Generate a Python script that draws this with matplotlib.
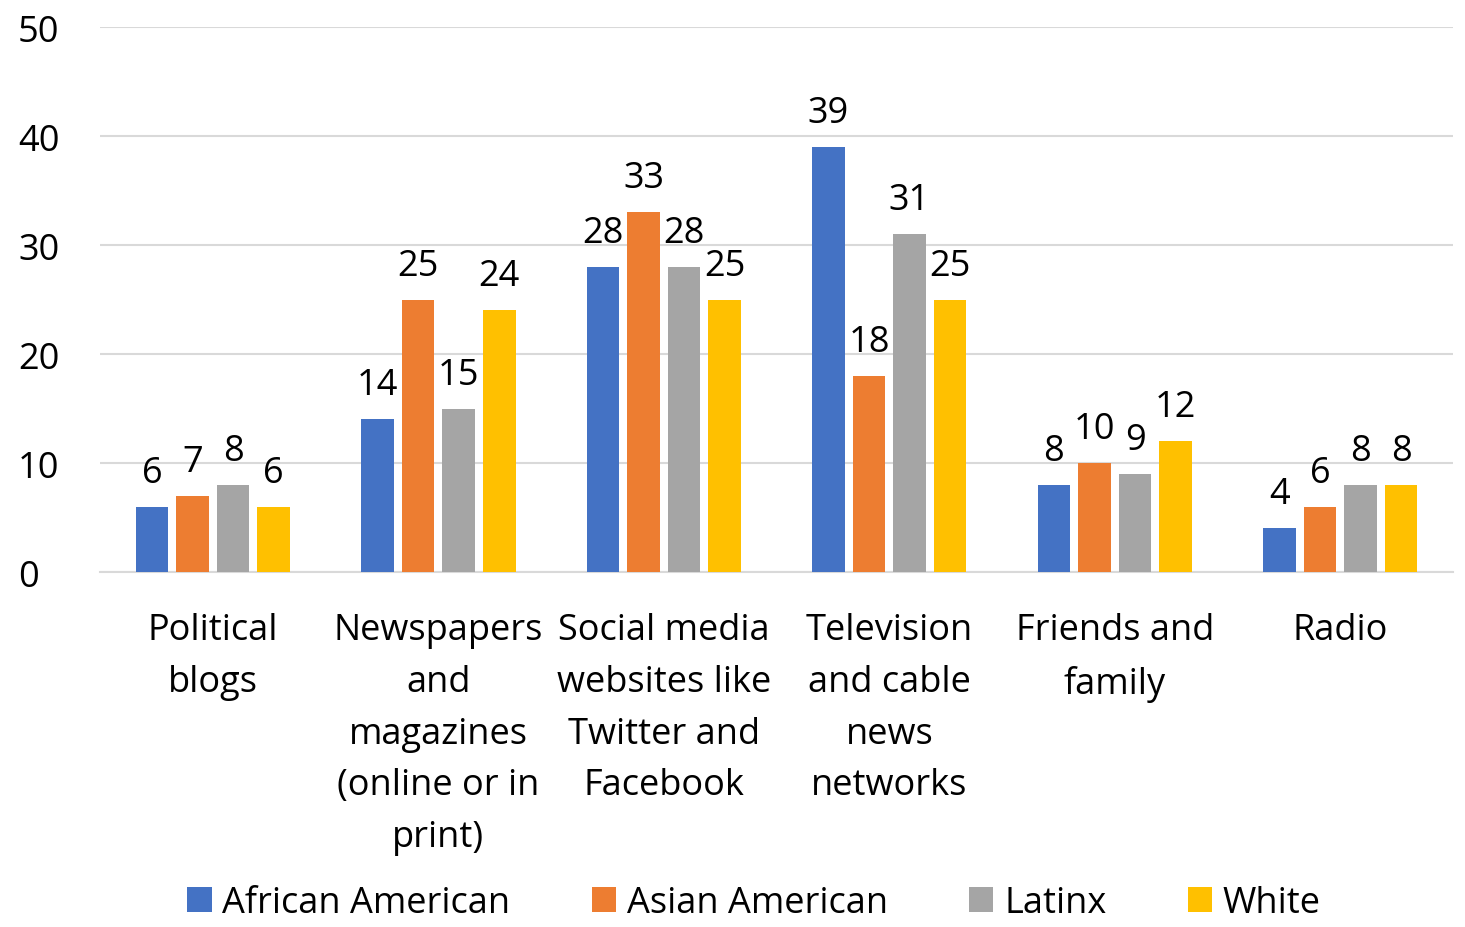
import numpy as np
import matplotlib.pyplot as plt

plt.rcParams['font.family'] = ['Open Sans', 'DejaVu Sans']

categories = ['Political\nblogs', 'Newspapers\nand\nmagazines\n(online or in\nprint)',
              'Social media\nwebsites like\nTwitter and\nFacebook',
              'Television\nand cable\nnews\nnetworks', 'Friends and\nfamily', 'Radio']
groups = ['African American', 'Asian American', 'Latinx', 'White']
african_american = [6, 14, 28, 39, 8, 4]
asian_american = [7, 25, 33, 18, 10, 6]
latinx = [8, 15, 28, 31, 9, 8]
white = [6, 24, 25, 25, 12, 8]
yticks = [0, 10, 20, 30, 40, 50]

colors = ['#4472C4', '#ED7D31', '#A5A5A5', '#FFC000']
series = [african_american, asian_american, latinx, white]
FS = 26

fig = plt.figure(figsize=(14.65, 9.28), dpi=100)
ax = fig.add_axes([0.0683, 0.3825, 0.9235, 0.5873])

x = np.arange(len(categories))
bar_w = 0.145
step = 0.18
for i, (vals, col, name) in enumerate(zip(series, colors, groups)):
    pos = x + (i - 1.5) * step
    bars = ax.bar(pos, vals, width=bar_w, color=col, label=name, zorder=3)
    for b, v in zip(bars, vals):
        ax.annotate(str(v), (b.get_x() + b.get_width() / 2, v),
                    xytext=(0, 18), textcoords='offset points',
                    ha='center', va='baseline', fontsize=FS, color='black')

ax.set_xlim(-0.5, len(categories) - 0.5)
ax.set_ylim(0, 50)
ax.set_yticks(yticks)
ax.set_xticks(x)
ax.set_xticklabels(categories, fontsize=FS, linespacing=1.58, va='top')
ax.tick_params(axis='y', labelsize=FS, length=0, pad=59)
ax.tick_params(axis='x', length=0, pad=29)
for lbl in ax.get_yticklabels():
    lbl.set_horizontalalignment('left')
ax.grid(axis='y', color='#D9D9D9', linewidth=1.5, zorder=0)
for s in ['top', 'right', 'left']:
    ax.spines[s].set_visible(False)
ax.spines['bottom'].set_color('#D9D9D9')
ax.spines['bottom'].set_linewidth(1.5)

fig.legend(loc='lower center', bbox_to_anchor=(0.5147, -0.029), ncol=4, frameon=False,
           fontsize=FS, handlelength=0.67, handleheight=0.67, handletextpad=0.3,
           columnspacing=2.25)

fig.savefig('out.png', dpi=100)
